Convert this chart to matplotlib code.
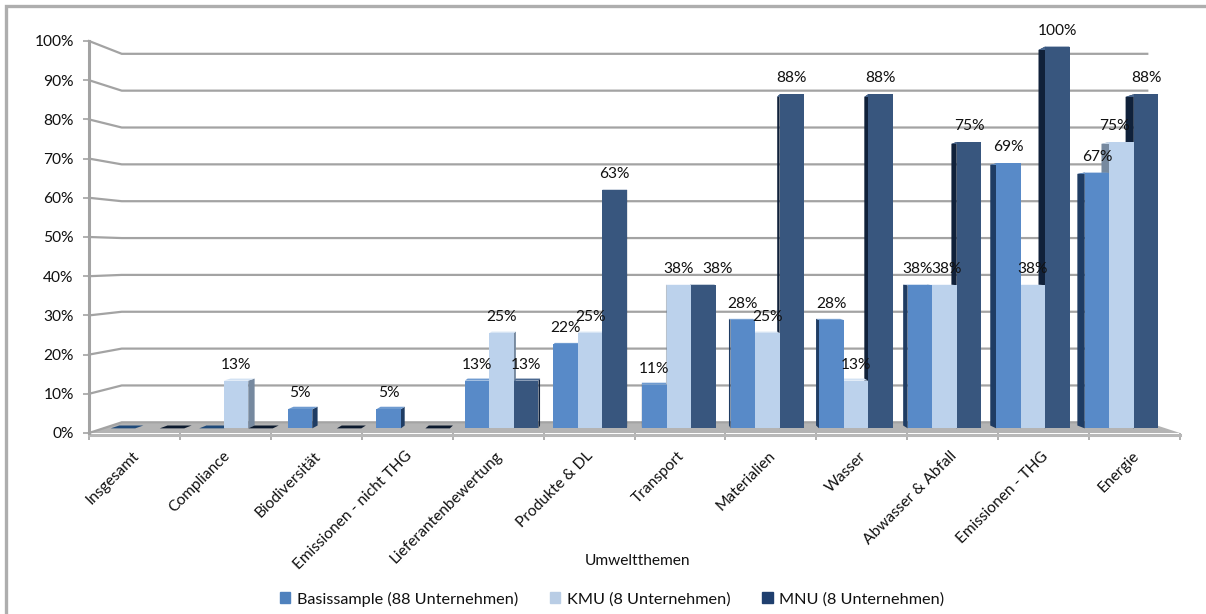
import matplotlib
matplotlib.use("Agg")
import matplotlib.pyplot as plt
from matplotlib.patches import Patch, Polygon, Rectangle
from matplotlib.transforms import ScaledTranslation

categories = ["Insgesamt", "Compliance", "Biodiversität", "Emissionen - nicht THG",
              "Lieferantenbewertung", "Produkte & DL", "Transport", "Materialien",
              "Wasser", "Abwasser & Abfall", "Emissionen - THG", "Energie"]
# bar heights as seen in the chart, the labels show them rounded
basis = [0, 0, 5, 5, 12.5, 22, 11.4, 28.4, 28.4, 37.5, 69.4, 67]
kmu = [0, 12.5, 0, 0, 25, 25, 37.5, 25, 12.5, 37.5, 37.5, 75]
mnu = [0, 0, 0, 0, 12.5, 62.5, 37.5, 87.5, 87.5, 75, 100, 87.5]
series_names = ["Basissample (88 Unternehmen)", "KMU (8 Unternehmen)", "MNU (8 Unternehmen)"]
y_ticks = list(range(0, 101, 10))

front_colors = ["#588ac8", "#bcd2ec", "#38567e"]
side_colors = ["#1f3c63", "#76899f", "#10213a"]
top_colors = ["#6f9bd0", "#d3e2f3", "#4a6890"]
legend_colors = ["#4f81bd", "#b9cde5", "#1f3f6e"]
zero_colors = ["#1f4a7a", None, "#0c1a2e"]
grid_color = "#a3a3a3"
text_color = "#111111"
FS = 11.2

# fake 3d: everything shrinks towards this point the further back it sits
VX, VY = 6.0, 45.5
S_WALL, S_BAR_FRONT, S_BAR_BACK = 0.94, 0.974, 0.958
BAR_W = 0.277

# labels the original moved sideways off their bars (points)
label_nudge = {("Energie", 1): -5, ("Transport", 2): 10,
               ("Abwasser & Abfall", 0): -1.5, ("Abwasser & Abfall", 1): 1.5}


def px(x, s):
    return VX + s * (x - VX)


def py(v, s):
    return VY + s * (v - VY)


plt.rcParams["font.family"] = ["Lato", "DejaVu Sans"]
fig = plt.figure(figsize=(12.06, 6.14), dpi=100)
ax = fig.add_axes([89 / 1206, 1 - 433 / 614, (1180 - 89) / 1206, (433 - 41) / 614])
ax.set_xlim(0, 12)
ax.set_ylim(0, 100)
for sp in ax.spines.values():
    sp.set_visible(False)

# outer frame of the chart area
fig.add_artist(Rectangle((6 / 1206, -0.1), 1.1, 1.1 - 6 / 614, transform=fig.transFigure,
                         fill=False, ec="#aeaeae", lw=2.4))

# floor
ax.add_patch(Polygon([(0, 0), (px(0, S_WALL), py(0, S_WALL)), (px(12, S_WALL), py(0, S_WALL)), (12, 0)],
                     fc="#b4b4b4", ec="none", zorder=1))
ax.plot([0, 12], [-0.4, -0.4], color="#b8b8b8", lw=2.2, clip_on=False, zorder=2)

# back wall grid lines with the slanted piece on the left wall
for v in y_ticks:
    ax.plot([0, px(0, S_WALL), px(12, S_WALL)], [v, py(v, S_WALL), py(v, S_WALL)],
            color=grid_color, lw=1.6, clip_on=False, zorder=1.5)
ax.plot([0, 0], [0, 100], color=grid_color, lw=2.2, clip_on=False, zorder=2)

# bars, outer ones first so the inner ones cover their side faces
all_series = [basis, kmu, mnu]
z = 3.0
for i, cat in enumerate(categories):
    order = [0, 1, 2] if i < 6 else [2, 1, 0]
    for j in order:
        v = all_series[j][i]
        center = i + 0.5 + (j - 1) * BAR_W
        xl, xr = center - BAR_W / 2, center + BAR_W / 2
        edge = xr if i < 6 else xl
        if v == 0:
            if zero_colors[j]:
                ax.add_patch(Polygon([(px(xl, S_BAR_FRONT), py(0, S_BAR_FRONT)),
                                      (px(xr, S_BAR_FRONT), py(0, S_BAR_FRONT)),
                                      (px(xr, S_BAR_BACK), py(0, S_BAR_BACK)),
                                      (px(xl, S_BAR_BACK), py(0, S_BAR_BACK))],
                                     fc=zero_colors[j], ec="none", zorder=z))
            z += 0.01
            continue
        ax.add_patch(Polygon([(px(edge, S_BAR_FRONT), py(0, S_BAR_FRONT)),
                              (px(edge, S_BAR_FRONT), py(v, S_BAR_FRONT)),
                              (px(edge, S_BAR_BACK), py(v, S_BAR_BACK)),
                              (px(edge, S_BAR_BACK), py(0, S_BAR_BACK))],
                             fc=side_colors[j], ec="none", zorder=z))
        ax.add_patch(Polygon([(px(xl, S_BAR_FRONT), py(v, S_BAR_FRONT)),
                              (px(xr, S_BAR_FRONT), py(v, S_BAR_FRONT)),
                              (px(xr, S_BAR_BACK), py(v, S_BAR_BACK)),
                              (px(xl, S_BAR_BACK), py(v, S_BAR_BACK))],
                             fc=top_colors[j], ec="none", zorder=z))
        ax.bar(px(center, S_BAR_FRONT), py(v, S_BAR_FRONT) - py(0, S_BAR_FRONT),
               width=BAR_W * S_BAR_FRONT, bottom=py(0, S_BAR_FRONT),
               color=front_colors[j], zorder=z + 0.005)
        z += 0.01

# value labels sit on top of everything
for i, cat in enumerate(categories):
    for j in range(3):
        v = all_series[j][i]
        if v == 0:
            continue
        center = i + 0.5 + (j - 1) * BAR_W
        ax.annotate(f"{int(v + 0.5)}%", (px(center, S_BAR_FRONT), py(v, S_BAR_FRONT)),
                    xytext=(label_nudge.get((cat, j), 0), 11.5), textcoords="offset points",
                    ha="center", va="center", fontsize=FS, color=text_color, zorder=20,
                    annotation_clip=False)

ax.set_yticks(y_ticks)
ax.set_yticklabels([f"{v}%" for v in y_ticks], fontsize=FS, color=text_color)
ax.tick_params(axis="y", length=4, width=1.2, color=grid_color, pad=7)
ax.set_xticks(range(13))
ax.set_xticklabels([])
ax.tick_params(axis="x", which="major", length=5, width=1.2, color=grid_color)
ax.set_xticks([i + 0.5 for i in range(12)], minor=True)
ax.set_xticklabels(categories, minor=True, rotation=45, ha="right", va="top",
                   rotation_mode="anchor", fontsize=FS, color=text_color)
ax.tick_params(axis="x", which="minor", length=0, pad=11.5)
for lab in ax.get_xticklabels(minor=True):
    lab.set_transform(lab.get_transform() + ScaledTranslation(-2 / 72, 0, fig.dpi_scale_trans))

fig.text(637 / 1206, 1 - 561 / 614, "Umweltthemen", ha="center", va="center", fontsize=FS, color=text_color)

handles = [Patch(color=c) for c in legend_colors]
fig.legend(handles, series_names, loc="center", bbox_to_anchor=(612 / 1206, 1 - 599 / 614), ncol=3,
           frameon=False, fontsize=11.7, handlelength=0.65, handleheight=0.65, handletextpad=0.4,
           columnspacing=1.95, labelcolor=text_color)

fig.savefig("out.png", dpi=100)
